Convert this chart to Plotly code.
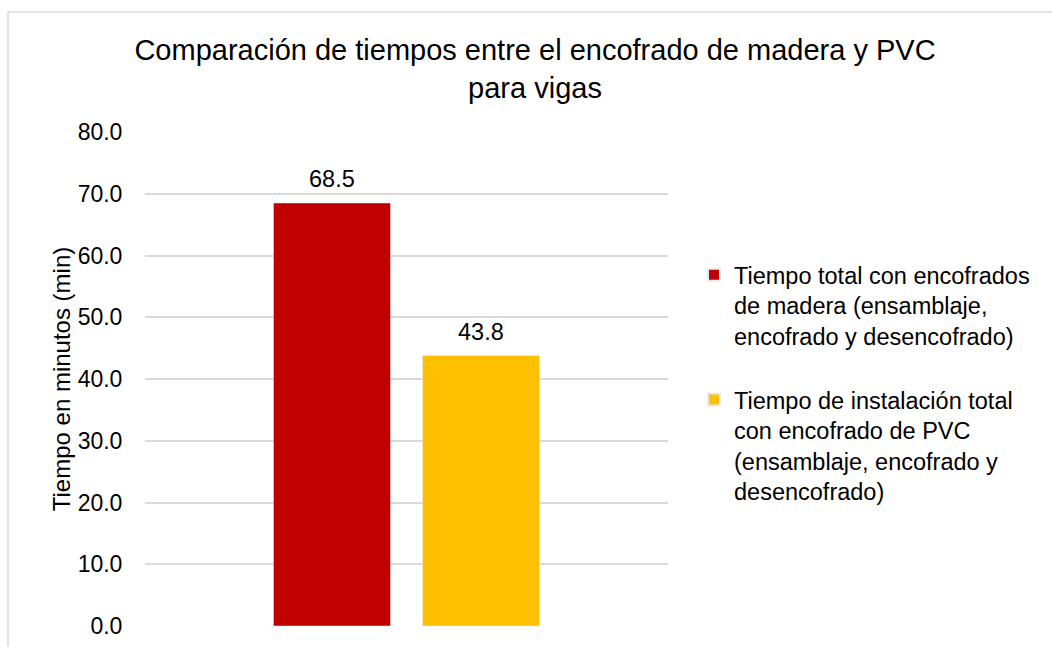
import plotly.graph_objects as go

categories = ["Vigas"]
series_names = [
    "Tiempo total con encofrados<br>de madera (ensamblaje,<br>encofrado y desencofrado)",
    "Tiempo de instalación total<br>con encofrado de PVC<br>(ensamblaje, encofrado y<br>desencofrado)",
]
values_madera = [68.5]
values_pvc = [43.8]
colors = ["#C00000", "#FFC000"]
tick_vals = [0, 10, 20, 30, 40, 50, 60, 70, 80]

W, H = 1052, 647
L, R, T, B = 145, 384, 132, 21
pw, ph = W - L - R, H - T - B
BARGAP, GROUPGAP = 0.43, 0.215

def px_x(x):
    return (x - L) / pw

def px_y(y):
    return (H - B - y) / ph

font = "Liberation Sans, Arial, sans-serif"

fig = go.Figure()
series = [
    (series_names[0], values_madera, colors[0], "a"),
    (series_names[1], values_pvc, colors[1], "b"),
]
slot = pw * (1 - BARGAP) / len(series)
for i, (name, vals, col, grp) in enumerate(series):
    fig.add_trace(go.Bar(
        x=categories, y=vals, name=name, marker_color=col,
        legendgroup=grp,
    ))
    shift = (i - (len(series) - 1) / 2) * slot
    for c, v in zip(categories, vals):
        fig.add_annotation(
            x=c, y=v, text=f"{v:.1f}", showarrow=False,
            xanchor="center", yanchor="bottom", yshift=9, xshift=shift,
            font=dict(size=23.5, color="#000000", family=font),
        )

fig.update_layout(
    width=W, height=H,
    margin=dict(l=L, r=R, t=T, b=B, autoexpand=False),
    paper_bgcolor="white", plot_bgcolor="white",
    barmode="group", bargap=BARGAP, bargroupgap=GROUPGAP,
    font=dict(family=font, size=24, color="#000000"),
    title=dict(
        text="Comparación de tiempos entre el encofrado de madera y PVC<br>para vigas",
        x=535 / W, xref="container", xanchor="center",
        y=1 - 60 / H, yref="container", yanchor="top",
        font=dict(size=29, family=font, color="#000000"),
    ),
    xaxis=dict(type="category", range=[-0.5, 0.5], showticklabels=False,
               showgrid=False, zeroline=False, showline=False),
    yaxis=dict(
        range=[0, 80], tickvals=tick_vals,
        ticktext=[f"{v:.1f}" for v in tick_vals],
        showgrid=True, gridcolor="#D9D9D9", gridwidth=1.5,
        zeroline=False, showline=False,
        ticks="outside", ticklen=17, tickcolor="rgba(0,0,0,0)",
        tickfont=dict(size=23, family=font, color="#000000"),
        title=dict(text="Tiempo en minutos (min)", standoff=0,
                   font=dict(size=24, family=font, color="#000000")),
    ),
    legend=dict(
        x=px_x(694), y=px_y(253), xanchor="left", yanchor="top",
        font=dict(size=23.5, family=font, color="#000000"),
        tracegroupgap=30, itemsizing="constant", valign="top",
        bgcolor="rgba(0,0,0,0)",
    ),
    showlegend=True,
)

fig.add_shape(
    type="rect", xref="paper", yref="paper",
    x0=px_x(8), x1=px_x(1070), y0=px_y(12), y1=px_y(670),
    line=dict(color="#D9D9D9", width=1.5), fillcolor="rgba(0,0,0,0)",
    layer="below",
)

fig.write_html("out.html", config={"displayModeBar": False},
               post_script="document.body.style.margin='0px';")
